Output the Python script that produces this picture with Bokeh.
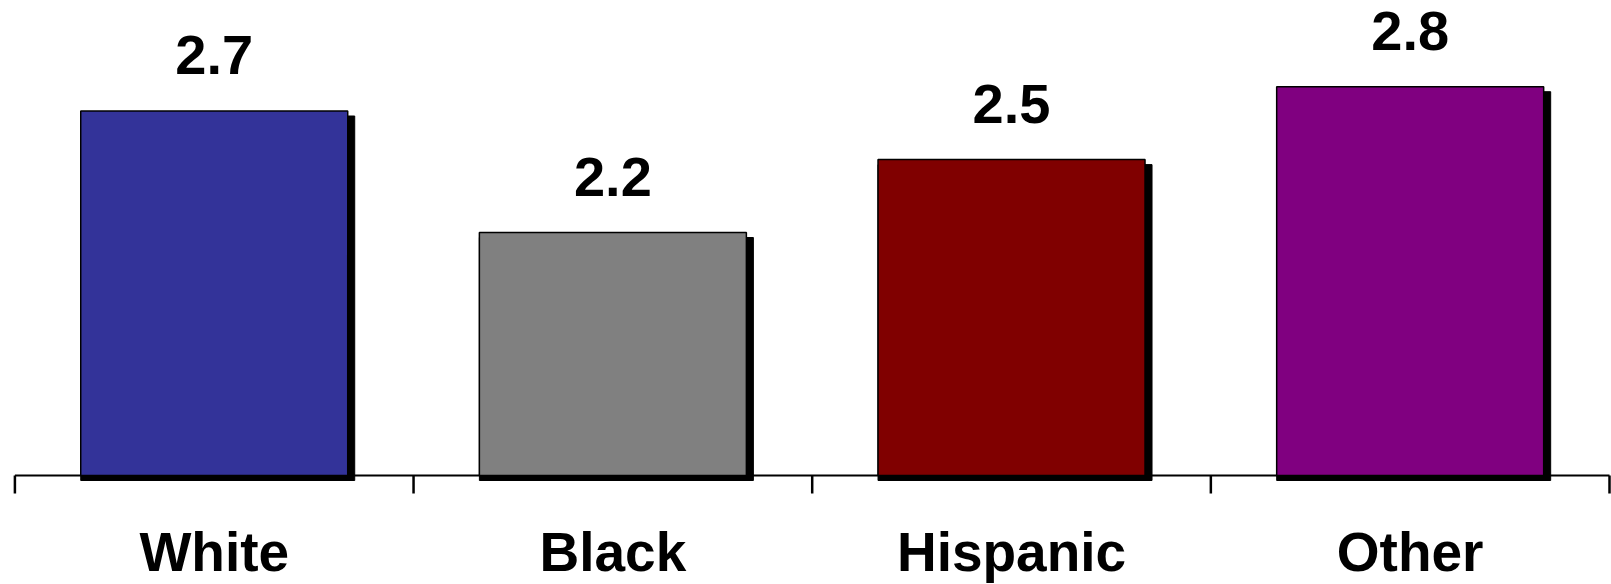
from bokeh.plotting import figure
from bokeh.models import ColumnDataSource, Range1d
from bokeh.core.properties import value
from bokeh.embed import file_html
from bokeh.resources import INLINE

categories = ["White", "Black", "Hispanic", "Other"]
values = [2.7, 2.2, 2.5, 2.8]
labels = ["2.7", "2.2", "2.5", "2.8"]
colors = ["#333399", "#808080", "#800000", "#800080"]

BASE = 1.2            # value where the category axis sits
PX_X = 398.65         # pixels per category
PX_Y = 243.0          # pixels per value unit
FIG_W, FIG_H = 1611, 584
AXIS_Y = 475          # figure pixel row of the axis line
LEFT = 14.4           # figure pixel column of the first separator

n = len(categories)
centers = [i + 0.5 for i in range(n)]
BAR_W = 267 / PX_X
dx = 7 / PX_X
dy = 5 / PX_Y
src = ColumnDataSource(dict(x=centers, top=values, lab=labels, color=colors,
                            cat=categories,
                            xs=[c + dx / 2 for c in centers],
                            tops=[v - dy for v in values],
                            base=[BASE] * n))

p = figure(width=FIG_W, height=FIG_H, output_backend="svg", toolbar_location=None,
           x_range=Range1d(-LEFT / PX_X, (FIG_W - LEFT) / PX_X),
           y_range=Range1d(BASE - (FIG_H - AXIS_Y) / PX_Y, BASE + AXIS_Y / PX_Y),
           min_border_left=0, min_border_right=0, min_border_top=0, min_border_bottom=0)
p.xaxis.visible = False
p.yaxis.visible = False
p.xgrid.visible = False
p.ygrid.visible = False
p.outline_line_color = None
p.background_fill_color = "white"
p.border_fill_color = "white"

# category axis: line and separator ticks
bounds = list(range(n + 1))
p.segment(x0=[0], y0=[BASE], x1=[n], y1=[BASE], line_color="black", line_width=2)
p.segment(x0=bounds, y0=[BASE] * (n + 1), x1=bounds, y1=[BASE - 18 / PX_Y] * (n + 1),
          line_color="black", line_width=2.5)

# shadow
p.vbar(x="xs", top="tops", bottom=BASE - dy, width=BAR_W + dx, source=src,
       fill_color="black", line_color="black")
# bars
p.vbar(x="x", top="top", bottom=BASE, width=BAR_W, source=src,
       fill_color="color", line_color="black", line_width=1.5)

FONT = value("Liberation Sans")
p.text(x="x", y="top", text="lab", source=src, text_align="center",
       text_baseline="alphabetic", y_offset=-56,
       text_font=FONT, text_font_style="bold",
       text_font_size="56px", text_color="black")

p.text(x="x", y="base", text="cat", source=src, text_align="center",
       text_baseline="alphabetic", y_offset=76,
       text_font=FONT, text_font_style="bold",
       text_font_size="55px", text_color="black")

open("out.html", "w").write(file_html(p, INLINE))
